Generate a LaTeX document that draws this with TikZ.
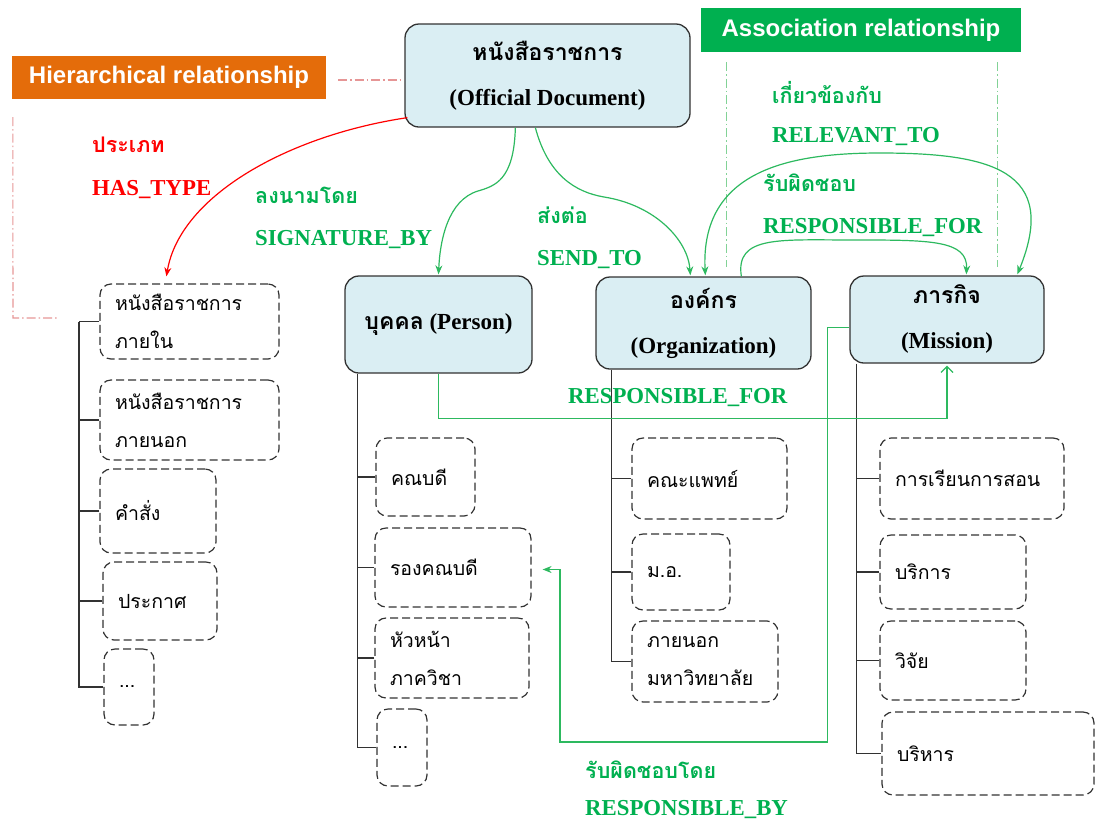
\documentclass[tikz,border=0pt]{standalone}
\usepackage{fontspec}
\setmainfont{Liberation Serif}
\newfontfamily\thai[Script=Thai]{Loma}
\newfontfamily\hdrfont{Liberation Sans}
\usetikzlibrary{arrows.meta,calc}

\definecolor{hierorange}{RGB}{228,108,10}
\definecolor{assocgreen}{RGB}{0,176,80}
\definecolor{linkgreen}{RGB}{45,185,95}
\definecolor{labelgreen}{RGB}{0,176,80}
\definecolor{boxblue}{RGB}{218,238,243}
\definecolor{hierguide}{RGB}{230,150,150}
\definecolor{assocguide}{RGB}{130,210,150}
\definecolor{treegray}{RGB}{50,50,50}

\begin{document}
\begin{tikzpicture}[x=1pt,y=-1pt,
  header/.style={fill=#1, text=white, font=\hdrfont\bfseries\fontsize{24}{28}\selectfont,
    inner sep=0pt},
  conceptbox/.style={draw=treegray, line width=1.3pt, fill=boxblue, rounded corners=14pt,
    align=center, inner sep=0pt, font=\bfseries\fontsize{23}{45}\selectfont},
  itembox/.style={draw=treegray, line width=1.2pt, dash pattern=on 8pt off 4pt,
    rounded corners=11pt, align=left, inner xsep=15pt, inner ysep=0pt,
    font=\thai\fontsize{19.5}{38}\selectfont},
  treeline/.style={draw=treegray, line width=1.4pt},
  guide/.style={line width=1.1pt, dash pattern=on 9pt off 3pt on 1.5pt off 3pt},
  link/.style={draw=linkgreen, line width=1.2pt},
  tip/.style={-{Stealth[length=9pt,width=7pt]}},
  rellabel/.style={anchor=west, inner sep=0pt, font=\bfseries\fontsize{22.8}{26}\selectfont},
  thlabel/.style={anchor=west, inner sep=0pt, font=\thai\bfseries\fontsize{21.5}{26}\selectfont}
]
\useasboundingbox (0,0) rectangle (1095,823);

% relationship headers
\node[header=hierorange, minimum width=314pt, minimum height=43pt] (hier) at (169,77.5)
  {Hierarchical relationship};
\node[header=assocgreen, minimum width=320pt, minimum height=44pt] (assoc) at (861,30)
  {Association relationship};

% main concepts
\node[conceptbox, minimum width=285pt, minimum height=103pt] (doc) at (547.5,75.5)
  {{\thai หนังสือราชการ}\\(Official Document)};
\node[conceptbox, minimum width=187pt, minimum height=97pt] (person) at (438.5,324.5)
  {{\thai บุคคล} (Person)};
\node[conceptbox, minimum width=215pt, minimum height=92pt] (org) at (703.5,323)
  {{\thai องค์กร}\\(Organization)};
\node[conceptbox, minimum width=194pt, minimum height=87pt] (mission) at (947,319.5)
  {{\thai ภารกิจ}\\(Mission)};

% document types
\node[itembox, text width=149pt, minimum height=75pt] (l1) at (189.5,321.5) {หนังสือราชการ\\ภายใน};
\node[itembox, text width=149pt, minimum height=80pt] (l2) at (189.5,420) {หนังสือราชการ\\ภายนอก};
\node[itembox, text width=86pt, minimum height=84pt] (l3) at (158,511) {คำสั่ง};
\node[itembox, text width=84pt, minimum height=78pt] (l4) at (160,601) {ประกาศ};
\node[itembox, text width=20pt, minimum height=76pt] (l5) at (129,687) {...};

% persons
\node[itembox, text width=69pt, minimum height=78pt] (p1) at (425.5,477) {คณบดี};
\node[itembox, text width=126pt, minimum height=79pt] (p2) at (453,567.5) {รองคณบดี};
\node[itembox, text width=124pt, minimum height=80pt] (p3) at (452,658) {หัวหน้า\\ภาควิชา};
\node[itembox, text width=20pt, minimum height=77pt] (p4) at (402,747.5) {...};

% organizations
\node[itembox, text width=125pt, minimum height=81pt] (o1) at (709.5,478.5) {คณะแพทย์};
\node[itembox, text width=68pt, minimum height=76pt] (o2) at (681,572) {ม.อ.};
\node[itembox, text width=116pt, minimum height=81pt] (o3) at (705,661.5) {ภายนอก\\มหาวิทยาลัย};

% missions
\node[itembox, text width=154pt, minimum height=81pt] (m1) at (972,478.5) {การเรียนการสอน};
\node[itembox, text width=116pt, minimum height=74pt] (m2) at (953,572) {บริการ};
\node[itembox, text width=116pt, minimum height=79pt] (m3) at (953,660.5) {วิจัย};
\node[itembox, text width=182pt, minimum height=83pt] (m4) at (988,753.5) {บริหาร};

% hierarchy trees
\coordinate (lt) at (79,321.5);
\draw[treeline] (lt) |- (l5.west);
\foreach \b in {l1,l2,l3,l4} \draw[treeline] (\b.west) -- (\b.west -| lt);

\coordinate (pt) at ($(person.south west)+(13,0)$);
\draw[treeline] (pt) |- (p4.west);
\foreach \b in {p1,p2,p3} \draw[treeline] (\b.west) -- (\b.west -| pt);

\coordinate (ot) at ($(org.south west)+(16,0)$);
\draw[treeline] (ot) |- (o3.west);
\foreach \b in {o1,o2} \draw[treeline] (\b.west) -- (\b.west -| ot);

\coordinate (mt) at ($(mission.south west)+(7,0)$);
\draw[treeline] (mt) |- (m4.west);
\foreach \b in {m1,m2,m3} \draw[treeline] (\b.west) -- (\b.west -| mt);

% guide lines of the two relationship kinds
\coordinate (hcorner) at (13,318);
\draw[guide, hierguide] ($(hier.east)+(12,2.5)$) -- ($(hier.east -| doc.west)+(-3,2.5)$);
\draw[guide, hierguide] ($(hier.south west)+(1,18)$) -- (hcorner) -- ++(45,0);
\draw[guide, assocguide] ($(assoc.south west)+(26,10)$) -- ++(0,205);
\draw[guide, assocguide] ($(assoc.south east)+(-24,10)$) -- ++(0,205);

% HAS_TYPE
\draw[draw=red, line width=1.2pt, tip]
  ($(doc.south west)+(3,-10)$) .. controls (290,135) and (180,195) .. ($(l1.north west)+(67,-7)$);
\node[thlabel, text=red] (t1) at (92,145) {ประเภท};
\node[rellabel, text=red] (t2) at (92,190) {HAS\_TYPE};

% SIGNATURE_BY
\draw[link, tip] ($(doc.south west)+(111,0)$) .. controls (514,180) and (495,186) .. (478,191)
  .. controls (448,200) and (440,240) .. ($(person.north)+(0,-1)$);
\node[thlabel, text=labelgreen] (s1) at (255,195) {ลงนามโดย};
\node[rellabel, text=labelgreen] (s2) at (255,240) {SIGNATURE\_BY};

% SEND_TO
\draw[link, tip] ($(doc.south west)+(131,0)$) .. controls (548,175) and (575,192) .. (604,197)
  .. controls (655,205) and (688,240) .. ($(org.north west)+(95,-1)$);
\node[thlabel, text=labelgreen] (d1) at (537,215) {ส่งต่อ};
\node[rellabel, text=labelgreen] (d2) at (537,260) {SEND\_TO};

% RELEVANT_TO (both ways)
\draw[link, {Stealth[length=9pt,width=7pt]}-{Stealth[length=9pt,width=7pt]}]
  ($(org.north west)+(110,-1)$) .. controls (700,170) and (790,153) .. (880,153)
  .. controls (990,153) and (1060,170) .. ($(mission.north west)+(168,-1)$);
\node[thlabel, text=labelgreen] (r1) at (772,92) {เกี่ยวข้องกับ};
\node[rellabel, text=labelgreen] (r2) at (772,137) {RELEVANT\_TO};

% RESPONSIBLE_FOR between organization and mission
\draw[link, tip] ($(org.north west)+(146,0)$) .. controls (735,235) and (780,240) .. (855,240)
  .. controls (930,240) and (968,240) .. ($(mission.north west)+(117,-1)$);
\node[thlabel, text=labelgreen] (f1) at (763,183) {รับผิดชอบ};
\node[rellabel, text=labelgreen] (f2) at (763,228) {RESPONSIBLE\_FOR};

% RESPONSIBLE_FOR between person and mission
\draw[link, -{Straight Barb[length=6pt,width=12pt]}]
  (person.south) -- ++(0,45) -| ($(mission.south)+(0,2)$);
\node[rellabel, text=labelgreen] (f3) at (568,398) {RESPONSIBLE\_FOR};

% RESPONSIBLE_BY from mission back to the persons
\coordinate (rbcorner) at (560,742);
\draw[link, tip] ($(mission.west)+(0,8)$) -- ++(-22,0) |- (rbcorner) |- ($(p2.east)+(11,2)$);
\node[thlabel, text=labelgreen] (b1) at (585,770) {รับผิดชอบโดย};
\node[rellabel, text=labelgreen] (b2) at (585,810) {RESPONSIBLE\_BY};
\end{tikzpicture}
\end{document}
